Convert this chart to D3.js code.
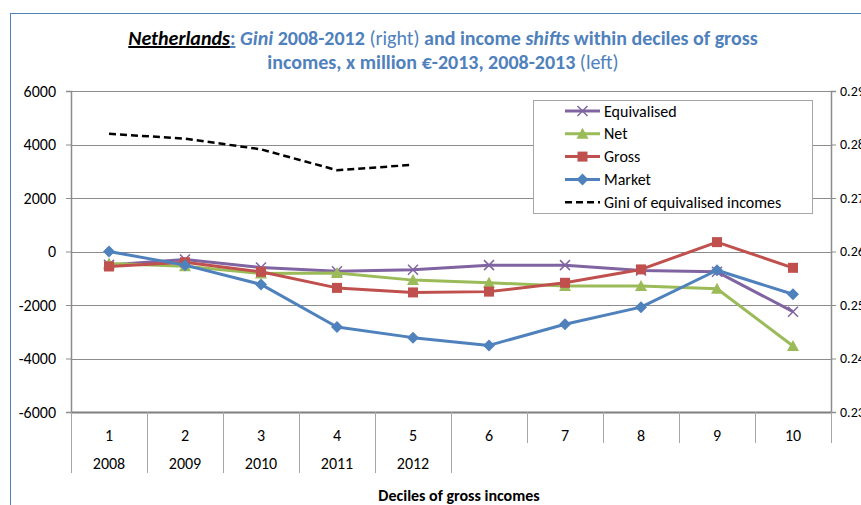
<!DOCTYPE html>
<html><head><meta charset="utf-8">
<script src="https://cdn.jsdelivr.net/npm/d3@7"></script>
<style>
body{margin:0;background:#fff;}
svg{font-family:Carlito,Calibri,Lato,"Open Sans",sans-serif;}
</style></head>
<body><svg id="c" width="861" height="505"></svg>
<script>
const deciles = ["1","2","3","4","5","6","7","8","9","10"];
const years = ["2008","2009","2010","2011","2012"];
const equivalised = [-500,-300,-600,-740,-680,-510,-510,-710,-760,-2250];
const net = [-450,-550,-820,-800,-1070,-1170,-1290,-1290,-1390,-3530];
const gross = [-560,-400,-760,-1360,-1530,-1500,-1170,-670,350,-610];
const market = [0,-510,-1230,-2820,-3220,-3510,-2720,-2080,-700,-1600];
const gini = [0.2820,0.2811,0.2791,0.2752,0.2762];
const leftTicks = [6000,4000,2000,0,-2000,-4000,-6000];
const rightTicks = [0.29,0.28,0.27,0.26,0.25,0.24,0.23];

const FONT = "Carlito,Calibri,Lato,sans-serif";
const svg = d3.select("#c");
const L=71,R=831,T=91,B=412;
const x = d3.scaleBand().domain(deciles).range([L,R]);
const cx = d => x(d)+x.bandwidth()/2;
const y = d3.scaleLinear().domain([-6000,6000]).range([B,T]);
const y2 = d3.scaleLinear().domain([0.23,0.29]).range([B,T]);

// outer border
svg.append("rect").attr("x",10.5).attr("y",13.5).attr("width",900).attr("height",600)
  .attr("fill","none").attr("stroke","#4F81BD").attr("stroke-width",1);

// title
const blue="#4F81BD";
const t1 = svg.append("text").attr("x",443).attr("y",45).attr("text-anchor","middle")
  .attr("font-size",20).attr("fill",blue).attr("font-weight","bold");
t1.append("tspan").attr("fill","#000").attr("font-style","italic").attr("text-decoration","underline").text("Netherlands");
t1.append("tspan").attr("text-decoration","underline").text(":");
t1.append("tspan").text(" ");
t1.append("tspan").attr("font-style","italic").text("Gini");
t1.append("tspan").text(" 2008-2012 ");
t1.append("tspan").attr("font-weight","normal").text("(right)");
t1.append("tspan").text(" and income ");
t1.append("tspan").attr("font-style","italic").text("shifts");
t1.append("tspan").text(" within deciles of gross");
const t2 = svg.append("text").attr("x",443).attr("y",69).attr("text-anchor","middle")
  .attr("font-size",20).attr("fill",blue).attr("font-weight","bold");
t2.append("tspan").text("incomes, x million €-2013, 2008-2013 ");
t2.append("tspan").attr("font-weight","normal").text("(left)");

// gridlines
svg.append("g").selectAll("line").data(leftTicks).join("line")
  .attr("x1",L).attr("x2",R).attr("y1",d=>Math.round(y(d))+0.5).attr("y2",d=>Math.round(y(d))+0.5)
  .attr("stroke","#8c8c8c").attr("stroke-width",1);

// left axis
const ga = svg.append("g").attr("transform",`translate(${L},0)`)
  .call(d3.axisLeft(y).tickValues(leftTicks).tickSize(5).tickPadding(10).tickFormat(d=>String(d)));
ga.attr("font-family",FONT).attr("font-size",16);
ga.select(".domain").attr("stroke","#8c8c8c").attr("stroke-width",1.5);
ga.selectAll(".tick line").attr("stroke","#8c8c8c");
ga.selectAll("text").attr("fill","#000");

// right axis
const gr = svg.append("g").attr("transform",`translate(${R},0)`)
  .call(d3.axisRight(y2).tickValues(rightTicks).tickSize(5).tickPadding(4).tickFormat(d3.format(".2f")));
gr.attr("font-family",FONT).attr("font-size",14);
gr.select(".domain").attr("stroke","#8c8c8c").attr("stroke-width",1.5);
gr.selectAll(".tick line").attr("stroke","#8c8c8c");
gr.selectAll("text").attr("fill","#000");

// bottom category axis
svg.append("line").attr("x1",L).attr("x2",R).attr("y1",B+0.5).attr("y2",B+0.5).attr("stroke","#7f7f7f").attr("stroke-width",2);
const bounds = deciles.map(d=>x(d)).concat([R]);
svg.append("g").selectAll("line").data(bounds).join("line")
  .attr("x1",d=>Math.round(d)+0.5).attr("x2",d=>Math.round(d)+0.5)
  .attr("y1",B).attr("y2",(d,i)=> i<=5 ? 473 : 443)
  .attr("stroke","#a6a6a6");
svg.append("g").selectAll("text").data(deciles).join("text")
  .attr("x",d=>cx(d)).attr("y",441).attr("text-anchor","middle").attr("font-size",16).text(d=>d);
svg.append("g").selectAll("text").data(years).join("text")
  .attr("x",(d,i)=>cx(deciles[i])).attr("y",469).attr("text-anchor","middle").attr("font-size",16).text(d=>d);
svg.append("text").attr("x",459).attr("y",501).attr("text-anchor","middle").attr("font-size",16)
  .attr("font-weight","bold").text("Deciles of gross incomes");

// series
const series = [
  {name:"Equivalised", vals:equivalised, color:"#8064A2", marker:"x"},
  {name:"Net", vals:net, color:"#9BBB59", marker:"tri"},
  {name:"Gross", vals:gross, color:"#C0504D", marker:"sq"},
  {name:"Market", vals:market, color:"#4F81BD", marker:"dia"}
];
const line = d3.line().x((d,i)=>cx(deciles[i])).y(d=>y(d));
function marker(g, type, color, px, py){
  if(type==="x"){
    g.append("path").attr("d",`M${px-5},${py-5}L${px+5},${py+5}M${px-5},${py+5}L${px+5},${py-5}`)
      .attr("stroke",color).attr("stroke-width",1.5).attr("fill","none");
  } else if(type==="tri"){
    g.append("path").attr("d",`M${px},${py-6}L${px+6},${py+5}L${px-6},${py+5}Z`).attr("fill",color);
  } else if(type==="sq"){
    g.append("rect").attr("x",px-5).attr("y",py-5).attr("width",10).attr("height",10).attr("fill",color);
  } else {
    g.append("path").attr("d",`M${px},${py-6}L${px+6},${py}L${px},${py+6}L${px-6},${py}Z`).attr("fill",color);
  }
}
series.forEach(s=>{
  const g = svg.append("g");
  g.append("path").datum(s.vals).attr("d",line).attr("fill","none").attr("stroke",s.color).attr("stroke-width",3).attr("stroke-linejoin","round");
  s.vals.forEach((v,i)=>marker(g,s.marker,s.color,cx(deciles[i]),y(v)));
});

// gini
const gline = d3.line().x((d,i)=>cx(deciles[i])).y(d=>y2(d));
svg.append("path").datum(gini).attr("d",gline).attr("fill","none").attr("stroke","#000")
  .attr("stroke-width",2.5).attr("stroke-dasharray","7,4");

// legend
const lg = svg.append("g");
lg.append("rect").attr("x",533.5).attr("y",100.5).attr("width",279).attr("height",113)
  .attr("fill","#fff").attr("stroke","#a6a6a6");
const items = series.map(s=>({name:s.name,color:s.color,marker:s.marker})).concat([{name:"Gini of equivalised incomes",color:"#000",marker:null}]);
items.forEach((it,i)=>{
  const yy = 111 + i*22.8;
  if(it.marker){
    lg.append("line").attr("x1",565).attr("x2",600).attr("y1",yy).attr("y2",yy).attr("stroke",it.color).attr("stroke-width",3);
    marker(lg,it.marker,it.color,582.5,yy);
  } else {
    lg.append("line").attr("x1",565).attr("x2",600).attr("y1",yy).attr("y2",yy).attr("stroke","#000").attr("stroke-width",2.5).attr("stroke-dasharray","7,4");
  }
  lg.append("text").attr("x",604).attr("y",yy+5.5).attr("font-size",16).text(it.name);
});
</script></body></html>
